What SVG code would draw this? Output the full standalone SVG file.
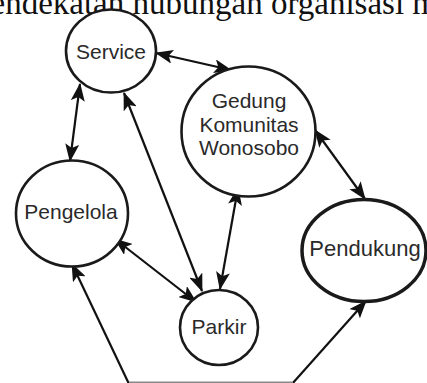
<svg xmlns="http://www.w3.org/2000/svg" width="427" height="383" viewBox="0 0 427 383">
<style>
.node{fill:#fff;stroke:#1a1a1a;stroke-width:2.6}
.thick{stroke-width:3.5}
.lbl{font-family:"Liberation Sans",Arial,sans-serif;font-size:21px;fill:#2a2a2a;text-anchor:middle}
.ln{stroke:#111;stroke-width:2.2;fill:none}
.title{font-family:"Liberation Serif","Times New Roman",serif;font-size:33px;fill:#111}
</style>
<defs>
<marker id="ah" viewBox="0 0 18 14" refX="17" refY="7" markerWidth="18" markerHeight="14" markerUnits="userSpaceOnUse" orient="auto-start-reverse">
<path d="M0,0 L18,7 L0,14 L4,7 z" fill="#111"/>
</marker>
</defs>
<rect width="427" height="383" fill="#fff"/>
<text class="title" x="-26" y="14">pendekatan hubungan organisasi m</text>
<g id="connectors">
<line class="ln" x1="156" y1="53" x2="231" y2="70" marker-start="url(#ah)" marker-end="url(#ah)"/>
<line class="ln" x1="80" y1="84" x2="70" y2="161" marker-start="url(#ah)" marker-end="url(#ah)"/>
<line class="ln" x1="124" y1="93" x2="202" y2="291" marker-start="url(#ah)" marker-end="url(#ah)"/>
<line class="ln" x1="238" y1="188" x2="220" y2="289" marker-start="url(#ah)" marker-end="url(#ah)"/>
<line class="ln" x1="115" y1="239" x2="196" y2="302" marker-start="url(#ah)" marker-end="url(#ah)"/>
<line class="ln" x1="315" y1="130" x2="365" y2="199" marker-start="url(#ah)" marker-end="url(#ah)"/>
<line class="ln" x1="129" y1="384" x2="72" y2="264" marker-end="url(#ah)"/>
<line class="ln" x1="292" y1="384" x2="366" y2="301" marker-end="url(#ah)"/>
<line x1="129" y1="382.5" x2="293" y2="382.5" stroke="#888" stroke-width="2"/>
</g>
<g id="service">
<ellipse class="node" cx="111" cy="51" rx="45" ry="41.5"/>
<text class="lbl" x="111" y="59">Service</text>
</g>
<g id="gedung">
<ellipse class="node" cx="248.5" cy="131.5" rx="67" ry="65"/>
<text class="lbl" x="249" y="108">Gedung</text>
<text class="lbl" x="249" y="132">Komunitas</text>
<text class="lbl" x="249" y="155">Wonosobo</text>
</g>
<g id="pengelola">
<ellipse class="node" cx="72" cy="213.5" rx="56" ry="53"/>
<text class="lbl" x="71" y="219">Pengelola</text>
</g>
<g id="parkir">
<ellipse class="node" cx="219" cy="327.5" rx="39" ry="37.5"/>
<text class="lbl" x="219" y="334">Parkir</text>
</g>
<g id="pendukung">
<ellipse class="node thick" cx="364" cy="250.5" rx="62" ry="51"/>
<text class="lbl" x="365" y="256" style="font-size:22px">Pendukung</text>
</g>
</svg>
